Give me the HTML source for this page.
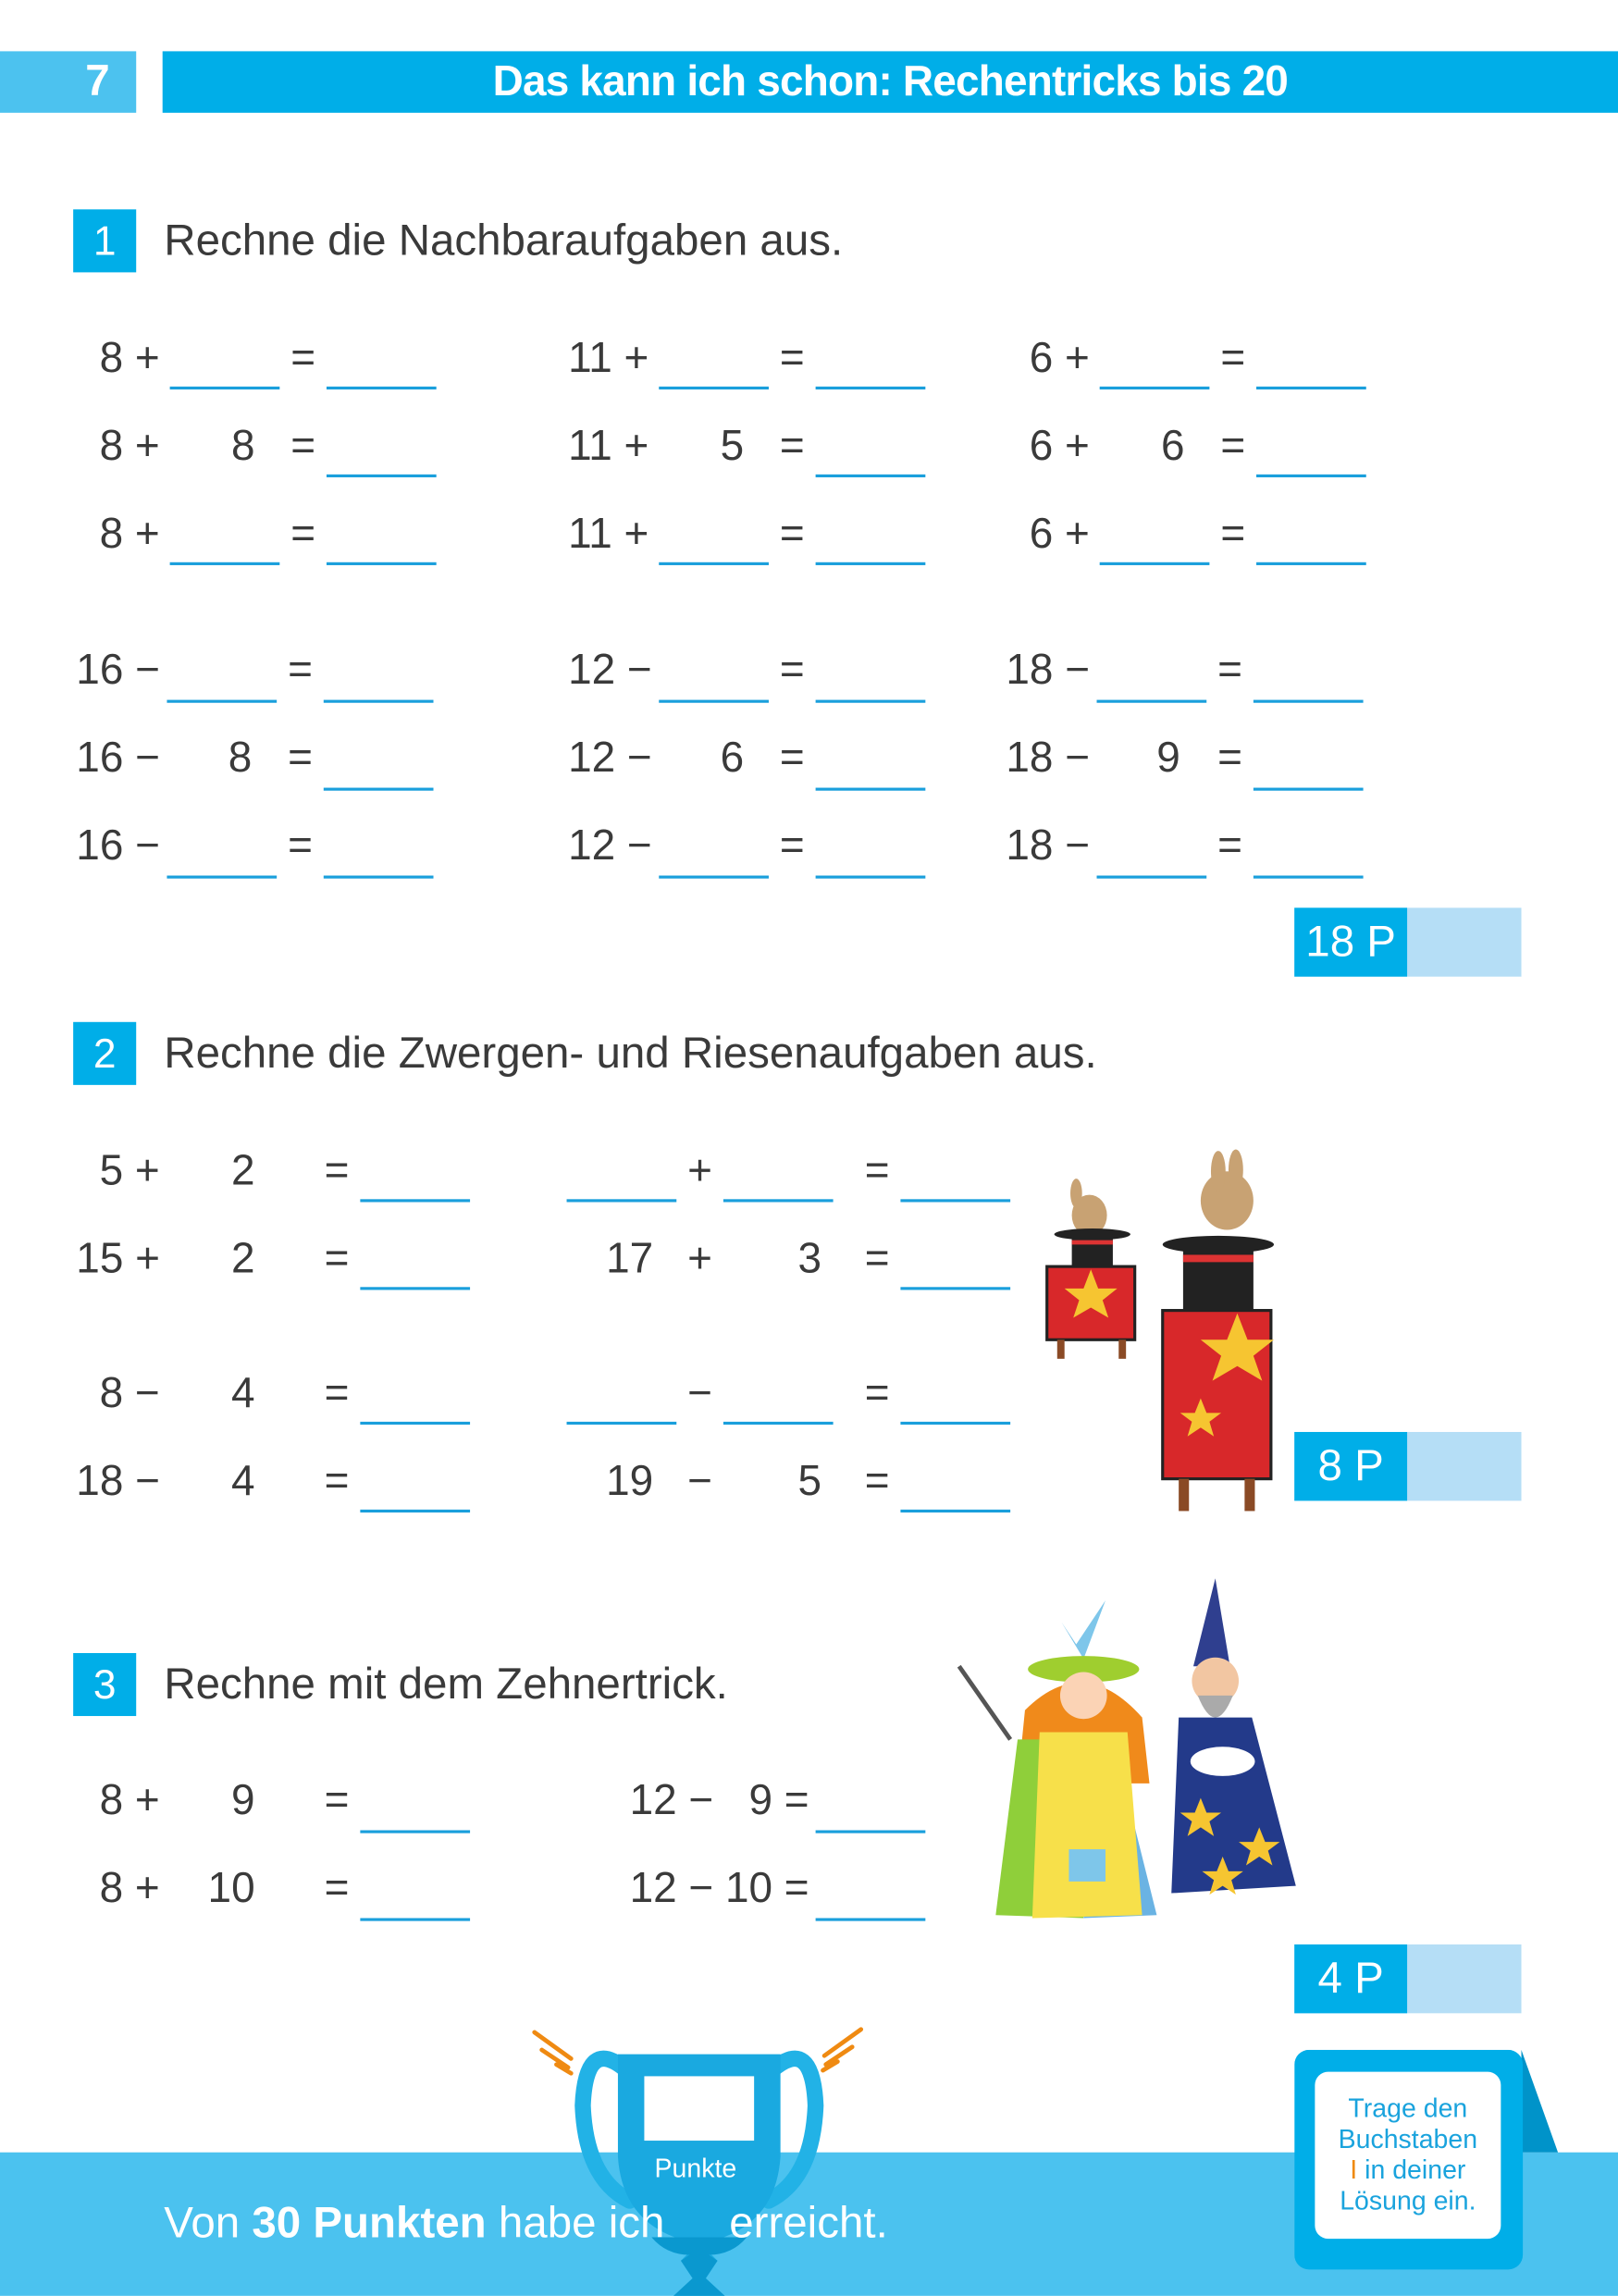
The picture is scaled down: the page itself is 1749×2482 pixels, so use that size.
<!DOCTYPE html>
<html><head><meta charset="utf-8">
<style>
html,body{margin:0;padding:0;background:#fff;width:1749px;height:2481px;overflow:hidden}
#w{position:absolute;left:0;top:0;width:1105px;height:1568px;transform:scale(1.5828);transform-origin:0 0;font-family:"Liberation Sans",sans-serif}
.t{position:absolute;font-size:29px;line-height:34px;color:#3a3a3a;white-space:nowrap}
.c{transform:translateX(-50%)}
.l{position:absolute;height:2px;background:#1a9fdc;width:75px}
.box{position:absolute;background:#00aee8;color:#fff;font-size:28px;line-height:43px;text-align:center;width:43px;height:43px;left:50px}
.p{position:absolute;left:884px;width:155px;height:47px;background:#b5def6}
.p div{position:absolute;left:0;top:0;width:77px;height:47px;background:#00aee8;color:#fff;font-size:30px;line-height:47px;text-align:center}
</style></head><body><div id="w">
<div style="position:absolute;left:0;top:35px;width:93px;height:42px;background:#4cc2ef;color:#fff;font-weight:bold;font-size:30px;line-height:42px;text-align:right;box-sizing:border-box;padding-right:18px">7</div>
<div style="position:absolute;left:111px;top:35px;width:994px;height:42px;background:#00aee8;color:#fff;font-weight:bold;font-size:29px;line-height:42px;text-align:center;letter-spacing:-0.5px">Das kann ich schon: Rechentricks bis 20</div>

<div class="box" style="top:143px">1</div>
<div class="t" style="left:112px;top:148px;font-size:30px">Rechne die Nachbaraufgaben aus.</div>

<div class="t" style="left:68px;top:228px">8 +</div><div class="l" style="left:116px;top:264px"></div><div class="t c" style="left:207px;top:228px">=</div><div class="l" style="left:223px;top:264px"></div>
<div class="t" style="left:68px;top:288px">8 +</div><div class="t c" style="left:166px;top:288px">8</div><div class="t c" style="left:207px;top:288px">=</div><div class="l" style="left:223px;top:324px"></div>
<div class="t" style="left:68px;top:348px">8 +</div><div class="l" style="left:116px;top:384px"></div><div class="t c" style="left:207px;top:348px">=</div><div class="l" style="left:223px;top:384px"></div>

<div class="t" style="left:388px;top:228px">11 +</div><div class="l" style="left:450px;top:264px"></div><div class="t c" style="left:541px;top:228px">=</div><div class="l" style="left:557px;top:264px"></div>
<div class="t" style="left:388px;top:288px">11 +</div><div class="t c" style="left:500px;top:288px">5</div><div class="t c" style="left:541px;top:288px">=</div><div class="l" style="left:557px;top:324px"></div>
<div class="t" style="left:388px;top:348px">11 +</div><div class="l" style="left:450px;top:384px"></div><div class="t c" style="left:541px;top:348px">=</div><div class="l" style="left:557px;top:384px"></div>

<div class="t" style="left:703px;top:228px">6 +</div><div class="l" style="left:751px;top:264px"></div><div class="t c" style="left:842px;top:228px">=</div><div class="l" style="left:858px;top:264px"></div>
<div class="t" style="left:703px;top:288px">6 +</div><div class="t c" style="left:801px;top:288px">6</div><div class="t c" style="left:842px;top:288px">=</div><div class="l" style="left:858px;top:324px"></div>
<div class="t" style="left:703px;top:348px">6 +</div><div class="l" style="left:751px;top:384px"></div><div class="t c" style="left:842px;top:348px">=</div><div class="l" style="left:858px;top:384px"></div>

<div class="t" style="left:52px;top:441px">16 −</div><div class="l" style="left:114px;top:478px"></div><div class="t c" style="left:205px;top:441px">=</div><div class="l" style="left:221px;top:478px"></div>
<div class="t" style="left:52px;top:501px">16 −</div><div class="t c" style="left:164px;top:501px">8</div><div class="t c" style="left:205px;top:501px">=</div><div class="l" style="left:221px;top:538px"></div>
<div class="t" style="left:52px;top:561px">16 −</div><div class="l" style="left:114px;top:598px"></div><div class="t c" style="left:205px;top:561px">=</div><div class="l" style="left:221px;top:598px"></div>

<div class="t" style="left:388px;top:441px">12 −</div><div class="l" style="left:450px;top:478px"></div><div class="t c" style="left:541px;top:441px">=</div><div class="l" style="left:557px;top:478px"></div>
<div class="t" style="left:388px;top:501px">12 −</div><div class="t c" style="left:500px;top:501px">6</div><div class="t c" style="left:541px;top:501px">=</div><div class="l" style="left:557px;top:538px"></div>
<div class="t" style="left:388px;top:561px">12 −</div><div class="l" style="left:450px;top:598px"></div><div class="t c" style="left:541px;top:561px">=</div><div class="l" style="left:557px;top:598px"></div>

<div class="t" style="left:687px;top:441px">18 −</div><div class="l" style="left:749px;top:478px"></div><div class="t c" style="left:840px;top:441px">=</div><div class="l" style="left:856px;top:478px"></div>
<div class="t" style="left:687px;top:501px">18 −</div><div class="t c" style="left:798px;top:501px">9</div><div class="t c" style="left:840px;top:501px">=</div><div class="l" style="left:856px;top:538px"></div>
<div class="t" style="left:687px;top:561px">18 −</div><div class="l" style="left:749px;top:598px"></div><div class="t c" style="left:840px;top:561px">=</div><div class="l" style="left:856px;top:598px"></div>

<div class="p" style="top:620px"><div>18 P</div></div>

<div class="box" style="top:698px">2</div>
<div class="t" style="left:112px;top:703px;font-size:30px">Rechne die Zwergen- und Riesenaufgaben aus.</div>

<div class="t" style="left:68px;top:783px">5 +</div><div class="t c" style="left:166px;top:783px">2</div><div class="t c" style="left:230px;top:783px">=</div><div class="l" style="left:246px;top:819px"></div>
<div class="t" style="left:52px;top:843px">15 +</div><div class="t c" style="left:166px;top:843px">2</div><div class="t c" style="left:230px;top:843px">=</div><div class="l" style="left:246px;top:879px"></div>
<div class="t" style="left:68px;top:935px">8 −</div><div class="t c" style="left:166px;top:935px">4</div><div class="t c" style="left:230px;top:935px">=</div><div class="l" style="left:246px;top:971px"></div>
<div class="t" style="left:52px;top:995px">18 −</div><div class="t c" style="left:166px;top:995px">4</div><div class="t c" style="left:230px;top:995px">=</div><div class="l" style="left:246px;top:1031px"></div>

<div class="l" style="left:387px;top:819px"></div><div class="t c" style="left:478px;top:783px">+</div><div class="l" style="left:494px;top:819px"></div><div class="t c" style="left:599px;top:783px">=</div><div class="l" style="left:615px;top:819px"></div>
<div class="t c" style="left:430px;top:843px">17</div><div class="t c" style="left:478px;top:843px">+</div><div class="t c" style="left:553px;top:843px">3</div><div class="t c" style="left:599px;top:843px">=</div><div class="l" style="left:615px;top:879px"></div>
<div class="l" style="left:387px;top:971px"></div><div class="t c" style="left:478px;top:935px">−</div><div class="l" style="left:494px;top:971px"></div><div class="t c" style="left:599px;top:935px">=</div><div class="l" style="left:615px;top:971px"></div>
<div class="t c" style="left:430px;top:995px">19</div><div class="t c" style="left:478px;top:995px">−</div><div class="t c" style="left:553px;top:995px">5</div><div class="t c" style="left:599px;top:995px">=</div><div class="l" style="left:615px;top:1031px"></div>

<svg style="position:absolute;left:700px;top:785px" width="180" height="250" viewBox="0 0 180 250">
 <ellipse cx="44" cy="45" rx="12" ry="14" fill="#c8a273"/><ellipse cx="35" cy="30" rx="4" ry="10" fill="#c8a273"/>
 <ellipse cx="46" cy="58" rx="26" ry="4" fill="#222"/>
 <rect x="32" y="58" width="28" height="22" fill="#222"/><rect x="32" y="62" width="28" height="3" fill="#d33"/>
 <rect x="15" y="80" width="60" height="50" fill="#d8282a" stroke="#222" stroke-width="2"/>
 <polygon points="45,82 50,95 63,95 53,103 57,115 45,108 33,115 37,103 27,95 40,95" fill="#f6c531"/>
 <rect x="22" y="130" width="5" height="13" fill="#8a4a25"/><rect x="64" y="130" width="5" height="13" fill="#8a4a25"/>
 <ellipse cx="138" cy="35" rx="18" ry="20" fill="#c8a273"/><ellipse cx="132" cy="15" rx="5" ry="14" fill="#c8a273"/><ellipse cx="144" cy="14" rx="5" ry="14" fill="#c8a273"/>
 <ellipse cx="132" cy="65" rx="38" ry="6" fill="#222"/>
 <rect x="108" y="65" width="48" height="45" fill="#222"/><rect x="108" y="72" width="48" height="5" fill="#d33"/>
 <rect x="94" y="110" width="74" height="115" fill="#d8282a" stroke="#222" stroke-width="2"/>
 <polygon points="145,112 152,130 170,130 156,141 162,158 145,148 128,158 134,141 120,130 138,130" fill="#f6c531"/>
 <polygon points="120,170 124,180 134,180 126,186 129,196 120,190 111,196 114,186 106,180 116,180" fill="#f6c531"/>
 <rect x="105" y="225" width="7" height="22" fill="#8a4a25"/><rect x="150" y="225" width="7" height="22" fill="#8a4a25"/>
</svg>

<div class="p" style="top:978px"><div>8 P</div></div>

<div class="box" style="top:1129px">3</div>
<div class="t" style="left:112px;top:1134px;font-size:30px">Rechne mit dem Zehnertrick.</div>
<div class="t" style="left:68px;top:1213px">8 +</div><div class="t c" style="left:166px;top:1213px">9</div><div class="t c" style="left:230px;top:1213px">=</div><div class="l" style="left:246px;top:1250px"></div>
<div class="t" style="left:68px;top:1273px">8 +</div><div class="t c" style="left:158px;top:1273px">10</div><div class="t c" style="left:230px;top:1273px">=</div><div class="l" style="left:246px;top:1310px"></div>
<div class="t" style="left:430px;top:1213px">12 −&nbsp;&nbsp;&nbsp;9 =</div><div class="l" style="left:557px;top:1250px"></div>
<div class="t" style="left:430px;top:1273px">12 − 10 =</div><div class="l" style="left:557px;top:1310px"></div>

<svg style="position:absolute;left:640px;top:1078px" width="260" height="240" viewBox="0 0 260 240">
 <line x1="15" y1="60" x2="50" y2="110" stroke="#555" stroke-width="3"/>
 <polygon points="85,30 95,45 115,15 100,55" fill="#7ec6ea"/>
 <ellipse cx="100" cy="62" rx="38" ry="9" fill="#9fce2f"/>
 <path d="M60 90 Q100 50 140 95 L145 140 L55 140 Z" fill="#f08a1b"/>
 <circle cx="100" cy="80" r="16" fill="#fbd3b5"/>
 <path d="M55 110 L40 230 L100 232 L85 110 Z" fill="#8fcf3a"/>
 <path d="M120 110 L150 230 L100 232 L110 110 Z" fill="#6ab3e3"/>
 <path d="M70 105 L130 105 L140 230 L65 232 Z" fill="#f7e04a"/>
 <rect x="90" y="185" width="25" height="22" fill="#7ec6ea"/>
 <polygon points="190,0 200,60 175,60" fill="#2f3f8f"/>
 <circle cx="190" cy="70" r="16" fill="#f2c6a2"/>
 <path d="M178 80 Q190 110 202 80 Z" fill="#aaa"/>
 <path d="M165 95 L215 95 L245 210 L160 215 Z" fill="#233a8a"/>
 <ellipse cx="195" cy="125" rx="22" ry="10" fill="#fff"/>
 <polygon points="180,150 184,160 194,160 186,166 189,176 180,170 171,176 174,166 166,160 176,160" fill="#f6c531"/>
 <polygon points="220,170 224,180 234,180 226,186 229,196 220,190 211,196 214,186 206,180 216,180" fill="#f6c531"/>
 <polygon points="195,190 199,200 209,200 201,206 204,216 195,210 186,216 189,206 181,200 191,200" fill="#f6c531"/>
</svg>

<div class="p" style="top:1328px"><div>4 P</div></div>

<div style="position:absolute;left:0;top:1470px;width:1105px;height:98px;background:#4bc2ef"></div>
<svg style="position:absolute;left:360px;top:1378px" width="235" height="190" viewBox="0 0 235 190">
 <g stroke="#ef8a12" stroke-width="3" stroke-linecap="round">
  <line x1="5" y1="10" x2="30" y2="28"/><line x1="10" y1="22" x2="28" y2="34"/><line x1="20" y1="32" x2="30" y2="38"/>
  <line x1="228" y1="8" x2="203" y2="26"/><line x1="222" y1="20" x2="204" y2="32"/><line x1="212" y1="30" x2="202" y2="36"/>
 </g>
 <g fill="none" stroke="#22b2e6" stroke-width="11" stroke-linecap="round">
  <path d="M68 36 Q40 12 38 60 Q40 110 70 125"/>
  <path d="M167 36 Q195 12 197 60 Q195 110 165 125"/>
 </g>
 <path d="M62 25 L173 25 L173 95 Q170 140 128 152 L124 160 L130 166 L122 178 L135 190 L100 190 L113 178 L105 166 L111 160 L107 152 Q65 140 62 95 Z" fill="#1aa9e0"/>
 <path d="M85 150 L150 150 Q140 162 124 162 L130 166 L122 178 L135 190 L100 190 L113 178 L105 166 L111 162 Q95 162 85 150 Z" fill="#0a98cf"/>
 <rect x="80" y="40" width="75" height="44" fill="#fff"/>
</svg>
<div class="t" style="left:447px;top:1464px;font-size:18px;color:#fff">Punkte</div>
<div class="t" style="left:112px;top:1502px;font-size:30px;color:#fff">Von <b>30 Punkten</b> habe ich</div>
<div class="t" style="left:498px;top:1502px;font-size:30px;color:#fff">erreicht.</div>

<svg style="position:absolute;left:884px;top:1400px" width="185" height="155" viewBox="0 0 185 155">
 <polygon points="155,0 180,70 155,70" fill="#0093c9"/>
 <rect x="0" y="0" width="156" height="150" rx="10" fill="#00aee8"/>
 <rect x="14" y="15" width="127" height="114" rx="9" fill="#fff"/>
</svg>
<div style="position:absolute;left:898px;top:1430px;width:127px;text-align:center;font-size:18px;line-height:21px;color:#1aa3dd">Trage den<br>Buchstaben<br><span style="color:#ef8a12">I</span> in deiner<br>Lösung ein.</div>
</div></body></html>
